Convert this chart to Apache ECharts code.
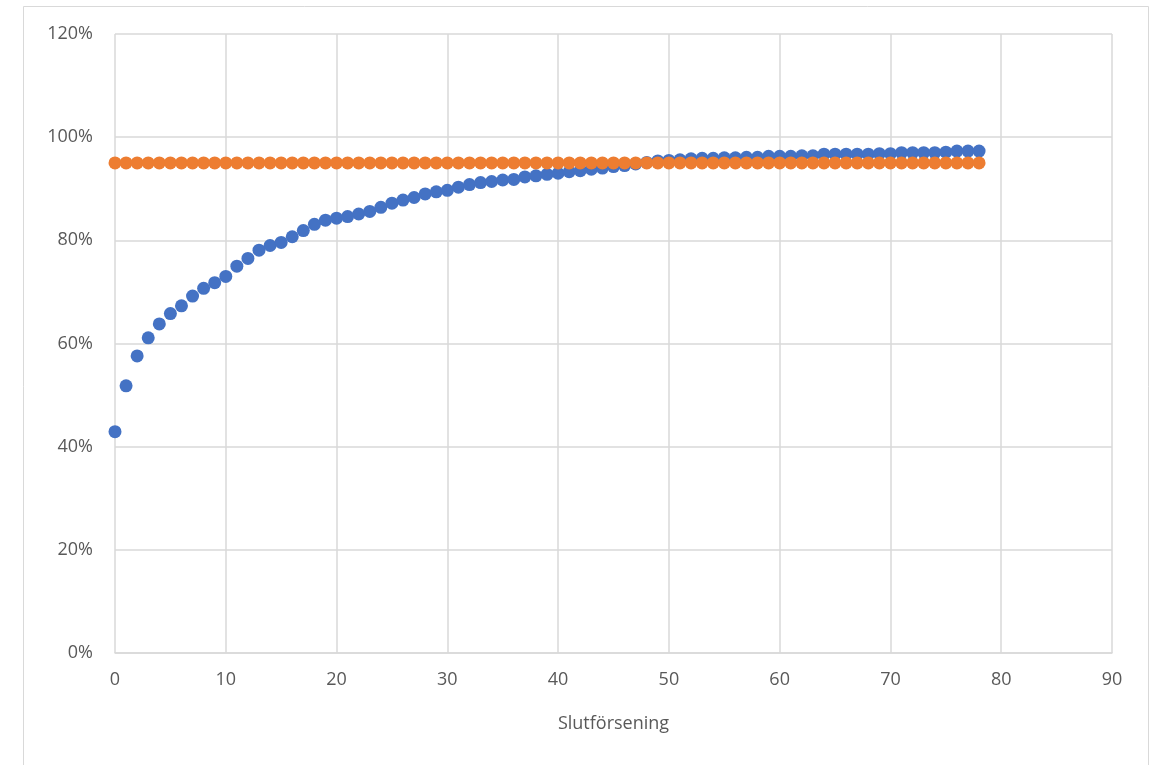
<!DOCTYPE html>
<html>
<head>
<meta charset="utf-8">
<script src="https://cdn.jsdelivr.net/npm/echarts@6/dist/echarts.min.js"></script>
<style>
html,body{margin:0;padding:0;background:#fff;}
#chart{width:1154px;height:765px;}
</style>
</head>
<body>
<div id="chart"></div>
<script>
const xValues = Array.from({length: 79}, (_, i) => i);
const blueValues = [
  42.9, 51.8, 57.6, 61.1, 63.8, 65.8, 67.3, 69.2, 70.7, 71.8,
  73.0, 75.0, 76.5, 78.1, 79.0, 79.6, 80.7, 81.9, 83.1, 83.9,
  84.3, 84.6, 85.1, 85.6, 86.4, 87.2, 87.8, 88.3, 89.0, 89.4,
  89.7, 90.3, 90.8, 91.2, 91.4, 91.7, 91.8, 92.3, 92.5, 92.8,
  93.0, 93.3, 93.5, 93.8, 94.0, 94.3, 94.5, 94.8, 95.1, 95.4,
  95.5, 95.6, 95.8, 95.9, 95.9, 96.0, 96.0, 96.1, 96.1, 96.3,
  96.3, 96.3, 96.4, 96.4, 96.7, 96.7, 96.7, 96.7, 96.7, 96.8,
  96.8, 97.0, 97.0, 97.0, 97.0, 97.1, 97.3, 97.3, 97.3
];
const orangeValues = xValues.map(() => 95);
const xTicks = [0, 10, 20, 30, 40, 50, 60, 70, 80, 90];
const yTicks = [0, 20, 40, 60, 80, 100, 120];
const xAxisTitle = 'Slutförsening';

const font = '"Open Sans", "Noto Sans", sans-serif';
const chart = echarts.init(document.getElementById('chart'), null, {renderer: 'canvas'});
chart.setOption({
  animation: false,
  backgroundColor: '#fff',
  graphic: [{
    type: 'rect',
    shape: {x: 23.5, y: 6.5, width: 1125, height: 800},
    style: {fill: 'none', stroke: '#d9d9d9', lineWidth: 1},
    silent: true
  }],
  grid: {left: 115, right: 42, top: 34, bottom: 112, containLabel: false},
  xAxis: {
    type: 'value',
    min: xTicks[0], max: xTicks[xTicks.length - 1], interval: 10,
    name: xAxisTitle, nameLocation: 'middle', nameGap: 62,
    nameTextStyle: {fontFamily: font, fontSize: 18, color: '#595959'},
    axisLine: {show: true, lineStyle: {color: '#d9d9d9', width: 1.5}},
    axisTick: {show: false},
    axisLabel: {fontFamily: font, fontSize: 18, color: '#595959', margin: 18},
    splitLine: {show: true, lineStyle: {color: '#d9d9d9', width: 1.5}}
  },
  yAxis: {
    type: 'value',
    min: yTicks[0], max: yTicks[yTicks.length - 1], interval: 20,
    axisLine: {show: false},
    axisTick: {show: false},
    axisLabel: {fontFamily: font, fontSize: 18, color: '#595959', margin: 22, formatter: '{value}%'},
    splitLine: {show: true, lineStyle: {color: '#d9d9d9', width: 1.5}}
  },
  series: [
    {
      type: 'scatter',
      symbol: 'circle',
      symbolSize: 13,
      itemStyle: {color: '#4472C4', opacity: 1},
      data: xValues.map((x, i) => [x, blueValues[i]])
    },
    {
      type: 'scatter',
      symbol: 'circle',
      symbolSize: 13,
      itemStyle: {color: '#ED7D31', opacity: 1},
      data: xValues.map((x, i) => [x, orangeValues[i]])
    }
  ]
});
</script>
</body>
</html>
